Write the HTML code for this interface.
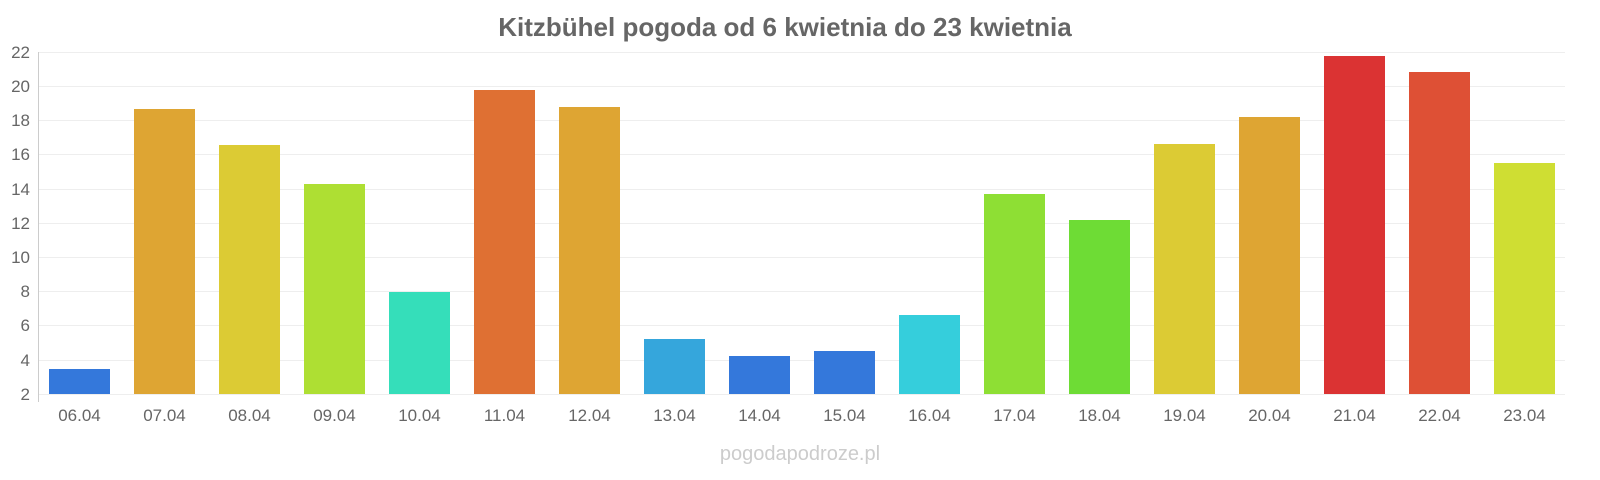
<!DOCTYPE html>
<html><head><meta charset="utf-8"><style>html,body{margin:0;padding:0;background:#fff}svg{display:block}</style></head>
<body>
<svg width="1600" height="480" xmlns="http://www.w3.org/2000/svg" font-family="Liberation Sans, sans-serif">
<text x="785" y="36" text-anchor="middle" font-size="26" font-weight="bold" fill="#666">Kitzbühel pogoda od 6 kwietnia do 23 kwietnia</text>
<g stroke="#eeeeee" stroke-width="1">
<line x1="38" x2="1565" y1="52.5" y2="52.5"/><line x1="38" x2="1565" y1="86.5" y2="86.5"/><line x1="38" x2="1565" y1="120.5" y2="120.5"/><line x1="38" x2="1565" y1="154.5" y2="154.5"/><line x1="38" x2="1565" y1="189.5" y2="189.5"/><line x1="38" x2="1565" y1="223.5" y2="223.5"/><line x1="38" x2="1565" y1="257.5" y2="257.5"/><line x1="38" x2="1565" y1="291.5" y2="291.5"/><line x1="38" x2="1565" y1="325.5" y2="325.5"/><line x1="38" x2="1565" y1="360.5" y2="360.5"/><line x1="38" x2="1565" y1="394.5" y2="394.5"/>
</g>
<line x1="38.5" x2="38.5" y1="52" y2="402" stroke="#ccc"/>
<g font-size="17" fill="#666" text-anchor="end">
<text x="30" y="58">22</text><text x="30" y="92">20</text><text x="30" y="126">18</text><text x="30" y="160">16</text><text x="30" y="195">14</text><text x="30" y="229">12</text><text x="30" y="263">10</text><text x="30" y="297">8</text><text x="30" y="331">6</text><text x="30" y="366">4</text><text x="30" y="400">2</text>
</g>
<g>
<rect x="49" y="369" width="61" height="25" fill="#3478db"/>
<rect x="134" y="109" width="61" height="285" fill="#dea533"/>
<rect x="219" y="145" width="61" height="249" fill="#dccb34"/>
<rect x="304" y="184" width="61" height="210" fill="#aedf33"/>
<rect x="389" y="292" width="61" height="102" fill="#35deba"/>
<rect x="474" y="90" width="61" height="304" fill="#df7033"/>
<rect x="559" y="107" width="61" height="287" fill="#dea533"/>
<rect x="644" y="339" width="61" height="55" fill="#35a6dc"/>
<rect x="729" y="356" width="61" height="38" fill="#3478db"/>
<rect x="814" y="351" width="61" height="43" fill="#3478db"/>
<rect x="899" y="315" width="61" height="79" fill="#35cedc"/>
<rect x="984" y="194" width="61" height="200" fill="#8edf34"/>
<rect x="1069" y="220" width="61" height="174" fill="#6edc35"/>
<rect x="1154" y="144" width="61" height="250" fill="#dccb34"/>
<rect x="1239" y="117" width="61" height="277" fill="#dea533"/>
<rect x="1324" y="56" width="61" height="338" fill="#db3333"/>
<rect x="1409" y="72" width="61" height="322" fill="#de5035"/>
<rect x="1494" y="163" width="61" height="231" fill="#cfde33"/>
</g>
<g font-size="17" fill="#666" text-anchor="middle">
<text x="79.5" y="421">06.04</text><text x="164.5" y="421">07.04</text><text x="249.5" y="421">08.04</text><text x="334.5" y="421">09.04</text><text x="419.5" y="421">10.04</text><text x="504.5" y="421">11.04</text><text x="589.5" y="421">12.04</text><text x="674.5" y="421">13.04</text><text x="759.5" y="421">14.04</text><text x="844.5" y="421">15.04</text><text x="929.5" y="421">16.04</text><text x="1014.5" y="421">17.04</text><text x="1099.5" y="421">18.04</text><text x="1184.5" y="421">19.04</text><text x="1269.5" y="421">20.04</text><text x="1354.5" y="421">21.04</text><text x="1439.5" y="421">22.04</text><text x="1524.5" y="421">23.04</text>
</g>
<text x="800" y="460" text-anchor="middle" font-size="20" fill="#cccccc">pogodapodroze.pl</text>
</svg>
</body></html>
